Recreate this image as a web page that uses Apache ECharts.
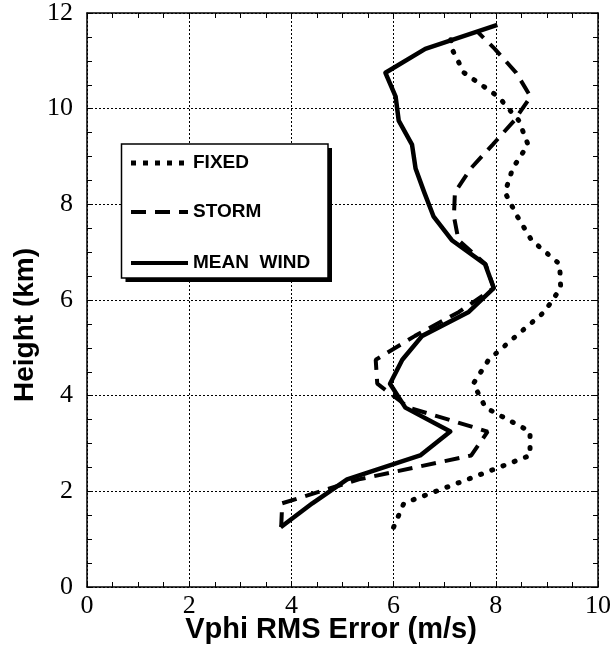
<!DOCTYPE html>
<html><head><meta charset="utf-8">
<script src="https://cdn.jsdelivr.net/npm/echarts@6/dist/echarts.min.js"></script>
<style>html,body{margin:0;padding:0;background:#fff}#c{width:614px;height:659px}</style>
</head><body><div id="c"></div>
<script>
// Heights (km) of the data levels
const levels = [1.25,1.75,2.25,2.75,3.25,3.75,4.25,4.75,5.25,5.75,6.25,6.75,7.25,7.75,8.25,8.75,9.25,9.75,10.25,10.75,11.25];
// Vphi RMS error (m/s) at each level
const fixedErr    = [6.0,6.2,7.45,8.67,8.67,7.8,7.56,7.86,8.4,8.95,9.27,9.25,8.7,8.42,8.18,8.33,8.63,8.45,8.05,7.38,7.14];
const stormErr    = [3.8,3.82,5.32,7.52,7.84,6.3,5.68,5.65,6.42,7.28,7.96,7.8,7.27,7.18,7.2,7.51,7.94,8.36,8.68,8.4,7.98];
const meanWindErr = [3.79,4.41,5.09,6.52,7.11,6.23,5.93,6.17,6.56,7.47,7.96,7.79,7.14,6.78,6.6,6.43,6.36,6.1,6.04,5.84,6.62];
// topmost point of each profile [error, height]
const fixedTop    = [7.12, 11.45];
const stormTop    = [7.65, 11.6];
const meanWindTop = [8.03, 11.75];
// axis ticks
const xTicks = [0,2,4,6,8,10];
const yTicks = [0,2,4,6,8,10,12];
const legendNames = ['FIXED','STORM','MEAN  WIND'];

function pairs(vals, top){ const d = vals.map((v,i)=>[v, levels[i]]); d.push(top); return d; }

const chart = echarts.init(document.getElementById('c'), null, {renderer:'canvas'});
const black = '#000';
function axisCommon(showLabel, showGrid, isX){
  return {
    type:'value',
    min: isX ? xTicks[0] : yTicks[0],
    max: isX ? xTicks[xTicks.length-1] : yTicks[yTicks.length-1],
    interval: 2,
    axisLine:{show:true, onZero:false, lineStyle:{color:black, width:1.5}},
    axisTick:{show:true, inside:true, length:5, lineStyle:{color:black, width:1}},
    minorTick:{show:true, splitNumber:4, length:5, lineStyle:{color:black, width:1}},
    axisLabel:{show:showLabel, color:black, fontFamily:'Liberation Serif', fontSize:26, margin: isX ? 6 : 14},
    splitLine:{show:showGrid, lineStyle:{color:black, width:1, type:[2,2]}},
    minorSplitLine:{show:false}
  };
}
const xA0 = Object.assign(axisCommon(true,true,true), {position:'bottom'});
const xA1 = Object.assign(axisCommon(false,false,true), {position:'top'});
const yA0 = Object.assign(axisCommon(true,true,false), {position:'left'});
const yA1 = Object.assign(axisCommon(false,false,false), {position:'right'});

const LX = 121.5, LY = 144, LW = 206.5, LH = 134;
const option = {
  animation:false,
  backgroundColor:'#fff',
  grid:{left:87, right:15, top:12, bottom:72, containLabel:false},
  xAxis:[xA0, xA1],
  yAxis:[yA0, yA1],
  series:[
    {name:legendNames[0], type:'line', xAxisIndex:0, yAxisIndex:0, data:pairs(fixedErr, fixedTop), symbol:'none',
     lineStyle:{color:black, width:5, type:[1,11], cap:'round'}, z:2},
    {name:legendNames[1], type:'line', xAxisIndex:0, yAxisIndex:0, data:pairs(stormErr, stormTop), symbol:'none',
     lineStyle:{color:black, width:4, type:[15,9], cap:'butt'}, z:3},
    {name:legendNames[2], type:'line', xAxisIndex:0, yAxisIndex:0, data:pairs(meanWindErr, meanWindTop), symbol:'none',
     lineStyle:{color:black, width:4.5, join:'round'}, z:4}
  ],
  graphic:[
    {type:'rect', shape:{x:LX+4, y:LY+4, width:LW, height:LH}, style:{fill:black}, z:100},
    {type:'rect', shape:{x:LX, y:LY, width:LW, height:LH}, style:{fill:'#fff', stroke:black, lineWidth:1.5}, z:101},
    {type:'line', shape:{x1:131, y1:163, x2:188, y2:163}, style:{stroke:black, lineWidth:5, lineDash:[5,7]}, z:102},
    {type:'line', shape:{x1:131, y1:212, x2:188, y2:212}, style:{stroke:black, lineWidth:4, lineDash:[15,9]}, z:102},
    {type:'line', shape:{x1:131, y1:263, x2:188, y2:263}, style:{stroke:black, lineWidth:4}, z:102},
    {type:'text', x:193, y:163, style:{text:legendNames[0], font:'bold 19px "Liberation Sans"', fill:black, verticalAlign:'middle', align:'left'}, z:103},
    {type:'text', x:193, y:212, style:{text:legendNames[1], font:'bold 19px "Liberation Sans"', fill:black, verticalAlign:'middle', align:'left'}, z:103},
    {type:'text', x:193, y:263, style:{text:legendNames[2], font:'bold 19px "Liberation Sans"', fill:black, verticalAlign:'middle', align:'left'}, z:103},
    {type:'text', x:331, y:630, style:{text:'Vphi RMS Error (m/s)', font:'bold 29px "Liberation Sans"', fill:black, verticalAlign:'middle', align:'center'}, z:103},
    {type:'text', x:25, y:325, rotation:Math.PI/2, style:{text:'Height (km)', font:'bold 28px "Liberation Sans"', fill:black, verticalAlign:'middle', align:'center'}, z:103}
  ]
};
chart.setOption(option);
</script>
</body></html>
